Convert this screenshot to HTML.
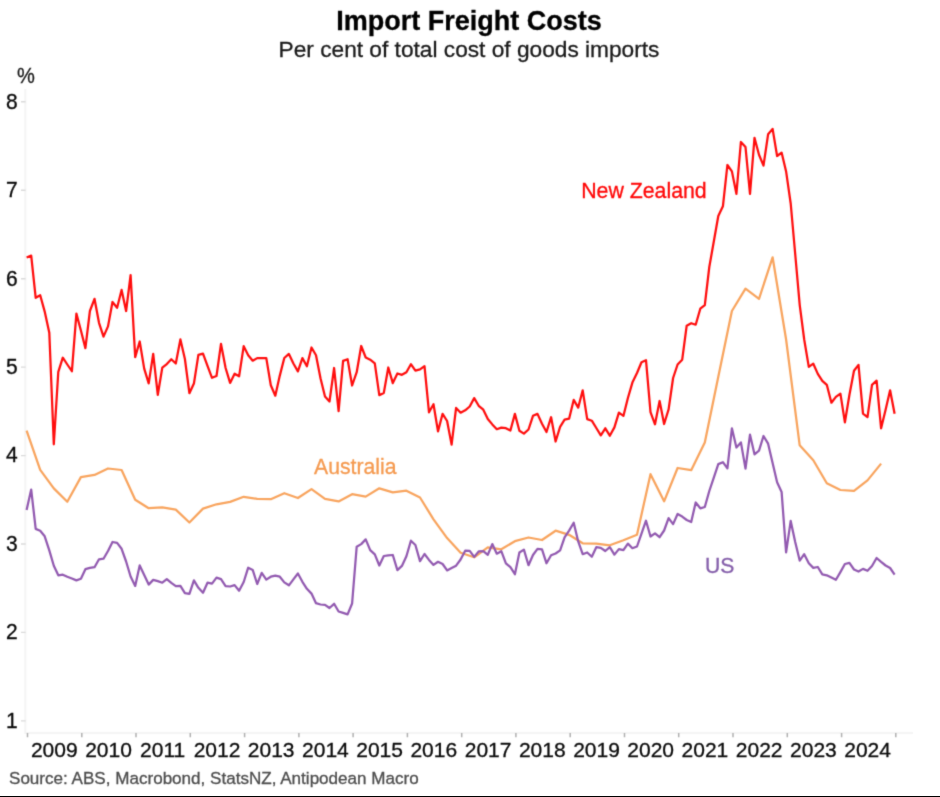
<!DOCTYPE html>
<html><head><meta charset="utf-8"><title>Import Freight Costs</title>
<style>
html,body{margin:0;padding:0;background:#fff;}
body{width:940px;height:797px;position:relative;overflow:hidden;font-family:"Liberation Sans",sans-serif;color:#1a1a1a;}
.t{position:absolute;white-space:nowrap;line-height:1;-webkit-text-stroke:0.3px currentColor;}
#title{left:0;width:938px;text-align:center;top:7.8px;font-size:27px;font-weight:bold;color:#000;}
#sub{left:0;width:938px;text-align:center;top:37.8px;font-size:22.7px;color:#1a1a1a;}
.yl{font-size:21px;width:20px;text-align:right;left:-2.3px;color:#0a0a0a;transform:scaleY(1.075);transform-origin:right 88%;}
.xl{font-size:21px;width:54px;text-align:center;top:739.3px;color:#0a0a0a;}
#src{left:9px;top:770px;font-size:17.07px;color:#4d4d4d;}
svg{position:absolute;left:0;top:0;}
#bar{position:absolute;left:0;top:796px;width:940px;height:1px;background:#000;}
#w{position:absolute;left:0;top:0;width:940px;height:797px;overflow:hidden;filter:url(#bl);background:#fff;}
</style></head><body><svg width="0" height="0" style="position:absolute"><defs><filter id="bl" x="0" y="0" width="100%" height="100%" color-interpolation-filters="sRGB"><feConvolveMatrix order="3" kernelMatrix="0.037 0.192 0.037 0.192 1 0.192 0.037 0.192 0.037" divisor="1.916" edgeMode="duplicate" preserveAlpha="true"/></filter></defs></svg><div id="w">
<div class="t" id="title">Import Freight Costs</div>
<div class="t" id="sub">Per cent of total cost of goods imports</div>
<div class="t" style="left:16.9px;top:64.7px;font-size:21.6px;transform:scaleX(0.93);transform-origin:left top;">%</div>
<div class="t yl" style="top:709.6px">1</div>
<div class="t yl" style="top:621.2px">2</div>
<div class="t yl" style="top:532.8px">3</div>
<div class="t yl" style="top:444.4px">4</div>
<div class="t yl" style="top:355.9px">5</div>
<div class="t yl" style="top:267.5px">6</div>
<div class="t yl" style="top:179.1px">7</div>
<div class="t yl" style="top:90.9px">8</div>
<div class="t xl" style="left:27.3px">2009</div>
<div class="t xl" style="left:81.5px">2010</div>
<div class="t xl" style="left:135.7px">2011</div>
<div class="t xl" style="left:190.0px">2012</div>
<div class="t xl" style="left:244.2px">2013</div>
<div class="t xl" style="left:298.4px">2014</div>
<div class="t xl" style="left:352.6px">2015</div>
<div class="t xl" style="left:406.8px">2016</div>
<div class="t xl" style="left:461.1px">2017</div>
<div class="t xl" style="left:515.3px">2018</div>
<div class="t xl" style="left:569.5px">2019</div>
<div class="t xl" style="left:623.7px">2020</div>
<div class="t xl" style="left:677.9px">2021</div>
<div class="t xl" style="left:732.2px">2022</div>
<div class="t xl" style="left:786.4px">2023</div>
<div class="t xl" style="left:840.6px">2024</div>
<div class="t" id="src">Source: ABS, Macrobond, StatsNZ, Antipodean Macro</div>
<div class="t" style="left:581.2px;top:180.6px;font-size:21.3px;color:#ff0808;">New Zealand</div>
<div class="t" style="left:314.1px;top:455.5px;font-size:21.2px;color:#f59a50;">Australia</div>
<div class="t" style="left:705px;top:554.6px;font-size:21.2px;color:#8660ab;">US</div>
<svg width="940" height="797" viewBox="0 0 940 797">
<path d="M25.4 89V733H913" fill="none" stroke="#f4f4f4" stroke-width="2"/>
<path d="M21 720.9H25.6M21 632.4H25.6M21 544.0H25.6M21 455.6H25.6M21 367.1H25.6M21 278.7H25.6M21 190.3H25.6M21 101.8H25.6" fill="none" stroke="#dadada" stroke-width="1.4"/>
<path d="M27.5 733V737.3M81.8 733V737.3M136.0 733V737.3M190.3 733V737.3M244.6 733V737.3M298.9 733V737.3M353.1 733V737.3M407.4 733V737.3M461.7 733V737.3M515.9 733V737.3M570.2 733V737.3M624.5 733V737.3M678.7 733V737.3M733.0 733V737.3M787.3 733V737.3M841.6 733V737.3M895.8 733V737.3" fill="none" stroke="#b0b0b0" stroke-width="1.5"/>
<polyline points="26.6,430.6 40.2,469.8 53.8,488.4 67.3,501.7 80.9,477.1 94.5,474.9 108.0,468.5 121.6,470.0 135.2,499.8 148.7,508.2 162.3,507.3 175.8,509.6 189.4,522.5 203.0,508.6 216.5,504.3 230.1,501.9 243.7,496.8 257.2,498.8 270.8,499.2 284.3,493.2 297.9,498.0 311.5,489.1 325.0,498.8 338.6,501.4 352.1,494.2 365.7,496.6 379.3,488.3 392.8,492.4 406.4,490.7 420.0,497.5 433.5,519.3 447.1,538.1 460.6,552.8 474.2,557.3 487.8,547.3 501.3,549.3 514.9,541.2 528.5,537.5 542.0,540.0 555.6,530.7 569.1,534.8 582.7,543.3 596.3,543.7 609.8,545.3 623.4,540.2 637.0,534.7 650.5,474.2 664.1,501.3 677.6,468.0 691.2,470.2 704.8,442.5 718.3,376.8 731.9,311.0 745.5,288.6 759.0,298.8 772.6,257.3 786.1,339.5 799.7,445.3 813.3,460.2 826.8,483.2 840.4,490.0 854.0,490.9 867.5,480.4 881.1,463.6" fill="none" stroke="#f8a45e" stroke-width="2.25" stroke-linejoin="round" stroke-linecap="butt"/>
<polyline points="26.6,510.1 31.2,489.6 35.7,528.9 40.2,530.8 44.7,536.3 49.3,550.4 53.8,565.7 58.3,575.3 62.8,574.7 67.3,576.8 71.9,578.5 76.4,580.4 80.9,578.8 85.4,569.2 89.9,567.9 94.5,567.2 99.0,559.3 103.5,558.7 108.0,551.0 112.5,542.0 117.1,542.9 121.6,548.8 126.1,561.5 130.6,576.5 135.2,585.9 139.7,565.4 144.2,575.0 148.7,584.6 153.2,579.9 157.8,581.1 162.3,582.7 166.8,579.1 171.3,582.9 175.8,586.1 180.4,585.9 184.9,593.2 189.4,593.9 193.9,580.4 198.4,587.8 203.0,592.7 207.5,582.7 212.0,583.6 216.5,577.6 221.0,579.1 225.6,586.1 230.1,586.5 234.6,585.1 239.1,590.7 243.7,582.0 248.2,567.7 252.7,569.9 257.2,584.0 261.7,572.9 266.3,579.6 270.8,576.7 275.3,575.7 279.8,576.7 284.3,582.4 288.9,585.3 293.4,579.3 297.9,573.5 302.4,581.8 306.9,588.8 311.5,593.6 316.0,603.2 320.5,604.5 325.0,604.8 329.5,608.0 334.1,603.8 338.6,611.5 343.1,612.9 347.6,614.4 352.1,603.5 356.7,546.7 361.2,544.1 365.7,539.4 370.2,550.1 374.8,554.4 379.3,565.5 383.8,556.0 388.3,555.4 392.8,555.0 397.4,570.1 401.9,565.9 406.4,556.3 410.9,540.7 415.4,545.0 420.0,561.1 424.5,554.0 429.0,559.9 433.5,564.9 438.0,561.8 442.6,564.0 447.1,570.4 451.6,568.1 456.1,565.7 460.6,559.5 465.2,550.7 469.7,550.8 474.2,556.9 478.7,551.4 483.3,551.2 487.8,554.8 492.3,544.1 496.8,553.7 501.3,551.2 505.9,563.3 510.4,567.2 514.9,574.2 519.4,552.5 523.9,549.6 528.5,565.2 533.0,555.0 537.5,548.9 542.0,549.3 546.5,563.3 551.1,555.3 555.6,553.5 560.1,550.3 564.6,537.3 569.1,530.6 573.7,522.8 578.2,541.4 582.7,554.2 587.2,552.5 591.8,556.8 596.3,547.2 600.8,547.8 605.3,551.0 609.8,547.2 614.4,554.6 618.9,549.1 623.4,550.1 627.9,543.6 632.4,548.2 637.0,546.5 641.5,533.7 646.0,520.7 650.5,536.5 655.0,533.3 659.6,537.2 664.1,530.5 668.6,518.1 673.1,524.1 677.6,514.0 682.2,516.6 686.7,520.0 691.2,522.0 695.7,502.5 700.3,508.3 704.8,507.0 709.3,491.0 713.8,477.6 718.3,464.1 722.9,462.2 727.4,468.4 731.9,428.3 736.4,447.5 740.9,442.4 745.5,468.6 750.0,434.7 754.5,454.3 759.0,450.7 763.5,436.0 768.1,443.7 772.6,462.9 777.1,482.3 781.6,491.9 786.1,552.3 790.7,520.9 795.2,542.0 799.7,560.6 804.2,554.2 808.8,563.2 813.3,567.9 817.8,567.0 822.3,574.4 826.8,575.3 831.4,577.5 835.9,579.8 840.4,572.1 844.9,564.0 849.4,562.9 854.0,569.5 858.5,571.5 863.0,568.9 867.5,570.8 872.0,566.0 876.6,558.0 881.1,561.9 885.6,565.5 890.1,568.0 894.6,574.7" fill="none" stroke="#925ab0" stroke-width="2.25" stroke-linejoin="round" stroke-linecap="butt"/>
<polyline points="26.6,257.5 31.2,255.6 35.7,297.8 40.2,295.3 44.7,311.6 49.3,332.8 53.8,444.3 58.3,371.8 62.8,357.7 67.3,364.5 71.9,371.2 76.4,313.6 80.9,330.5 85.4,348.1 89.9,311.0 94.5,298.8 99.0,322.8 103.5,336.6 108.0,326.4 112.5,302.0 117.1,307.8 121.6,289.9 126.1,311.0 130.6,275.2 135.2,357.1 139.7,341.5 144.2,368.6 148.7,383.3 153.2,353.9 157.8,394.8 162.3,367.6 166.8,364.1 171.3,359.3 175.8,363.5 180.4,339.4 184.9,359.0 189.4,393.2 193.9,383.6 198.4,354.8 203.0,353.6 207.5,365.9 212.0,377.8 216.5,376.0 221.0,343.9 225.6,368.0 230.1,382.9 234.6,373.7 239.1,376.3 243.7,346.2 248.2,355.2 252.7,360.7 257.2,358.1 261.7,358.1 266.3,358.1 270.8,385.2 275.3,395.7 279.8,375.6 284.3,358.0 288.9,353.9 293.4,363.5 297.9,371.4 302.4,358.1 306.9,366.3 311.5,347.5 316.0,355.2 320.5,378.2 325.0,396.4 329.5,401.5 334.1,368.0 338.6,411.1 343.1,360.9 347.6,359.2 352.1,385.5 356.7,372.2 361.2,346.0 365.7,357.5 370.2,359.7 374.8,363.3 379.3,395.2 383.8,392.9 388.3,367.5 392.8,383.1 397.4,373.5 401.9,374.8 406.4,372.2 410.9,364.2 415.4,370.7 420.0,369.4 424.5,366.1 429.0,412.3 433.5,404.2 438.0,431.4 442.6,413.8 447.1,421.0 451.6,444.6 456.1,407.9 460.6,412.7 465.2,410.3 469.7,406.5 474.2,398.1 478.7,405.8 483.3,409.7 487.8,419.0 492.3,424.4 496.8,429.2 501.3,427.6 505.9,428.2 510.4,430.5 514.9,413.9 519.4,430.8 523.9,433.6 528.5,429.5 533.0,415.8 537.5,413.9 542.0,423.7 546.5,432.0 551.1,417.2 555.6,441.5 560.1,426.8 564.6,419.7 569.1,418.7 573.7,399.9 578.2,407.6 582.7,390.3 587.2,419.1 591.8,420.7 596.3,428.0 600.8,435.3 605.3,428.3 609.8,435.7 614.4,427.4 618.9,412.7 623.4,415.9 627.9,398.0 632.4,382.6 637.0,373.0 641.5,362.2 646.0,360.2 650.5,412.2 655.0,424.3 659.6,401.0 664.1,424.0 668.6,409.3 673.1,378.0 677.6,364.5 682.2,359.7 686.7,325.7 691.2,323.2 695.7,324.7 700.3,308.7 704.8,305.2 709.3,267.0 713.8,241.5 718.3,216.0 722.9,206.3 727.4,165.0 731.9,171.4 736.4,193.8 740.9,142.0 745.5,147.1 750.0,193.8 754.5,137.9 759.0,154.8 763.5,165.6 768.1,134.3 772.6,128.9 777.1,156.0 781.6,152.6 786.1,171.4 790.7,203.5 795.2,254.0 799.7,304.8 804.2,339.5 808.8,366.9 813.3,363.7 817.8,373.9 822.3,380.9 826.8,384.8 831.4,402.7 835.9,396.9 840.4,393.7 844.9,422.3 849.4,395.0 854.0,370.7 858.5,364.9 863.0,413.6 867.5,417.1 872.0,384.8 876.6,380.7 881.1,428.3 885.6,409.7 890.1,390.3 894.6,413.8" fill="none" stroke="#ff0d0d" stroke-width="2.25" stroke-linejoin="round" stroke-linecap="butt"/>
</svg>
</div><div id="bar"></div>
</body></html>
